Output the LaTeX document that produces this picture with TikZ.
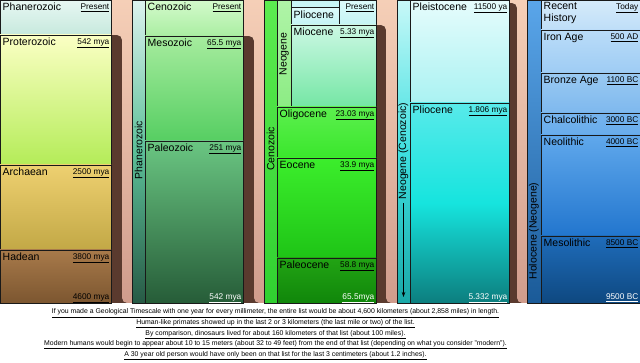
\documentclass[tikz,border=0pt]{standalone}
\usepackage{fontspec}
\setmainfont{Liberation Sans}
\usetikzlibrary{arrows.meta}

\definecolor{pchT}{HTML}{F6D0B8}
\definecolor{pchB}{HTML}{D09C8C}
\definecolor{brn}{HTML}{5A3A2E}
\definecolor{phT}{HTML}{E8F7F3}
\definecolor{phB}{HTML}{C6E9DD}
\definecolor{prT}{HTML}{FBFFC4}
\definecolor{prB}{HTML}{B4EC58}
\definecolor{arT}{HTML}{EED070}
\definecolor{arB}{HTML}{C2A846}
\definecolor{haT}{HTML}{A87A4A}
\definecolor{haB}{HTML}{7C5630}
\definecolor{s2T}{HTML}{DCF3EF}
\definecolor{s2M}{HTML}{5CBF98}
\definecolor{s2B}{HTML}{275A45}
\definecolor{czT}{HTML}{D4FACC}
\definecolor{czB}{HTML}{AAEEA2}
\definecolor{mzT}{HTML}{A6EC9E}
\definecolor{mzB}{HTML}{56CE62}
\definecolor{pzT}{HTML}{6AC682}
\definecolor{pzB}{HTML}{265C38}
\definecolor{s3T}{HTML}{5CEC50}
\definecolor{s3B}{HTML}{30D030}
\definecolor{ngT}{HTML}{B0F4A8}
\definecolor{ngB}{HTML}{8CEC84}
\definecolor{plT}{HTML}{C8F6F6}
\definecolor{pcT}{HTML}{DCFAFA}
\definecolor{pcB}{HTML}{C4F4F4}
\definecolor{miT}{HTML}{CCF8E4}
\definecolor{miB}{HTML}{74E6A4}
\definecolor{olT}{HTML}{5CF04E}
\definecolor{olB}{HTML}{3AE62C}
\definecolor{eoT}{HTML}{3CEE2C}
\definecolor{eoB}{HTML}{1EC416}
\definecolor{paT}{HTML}{22A414}
\definecolor{paB}{HTML}{10860A}
\definecolor{s4T}{HTML}{C8F8F8}
\definecolor{s4M}{HTML}{3EE0E0}
\definecolor{s4B}{HTML}{1AA8A8}
\definecolor{psT}{HTML}{E6FCFC}
\definecolor{psB}{HTML}{AAF2F2}
\definecolor{plvT}{HTML}{58EAEA}
\definecolor{plvM}{HTML}{16E4DE}
\definecolor{plvB}{HTML}{0C7E7E}
\definecolor{s5T}{HTML}{5AA6EA}
\definecolor{s5B}{HTML}{1A5A98}
\definecolor{rhT}{HTML}{D6EBFA}
\definecolor{rhB}{HTML}{BEDEF8}
\definecolor{iaT}{HTML}{BADCF8}
\definecolor{iaB}{HTML}{9ECCF4}
\definecolor{baT}{HTML}{9ACAF2}
\definecolor{baB}{HTML}{7EB8EE}
\definecolor{chT}{HTML}{76B4EE}
\definecolor{chB}{HTML}{68ACEC}
\definecolor{neT}{HTML}{60A8EC}
\definecolor{neB}{HTML}{2276CE}
\definecolor{meT}{HTML}{1F6CBA}
\definecolor{meB}{HTML}{0E4880}

\newcommand{\geobox}[8]{%
  \draw[cell, #5] (#1,#2) rectangle (#3,#4);
  \node[ename] (#8) at (#1+2.5,#2+11) {#6};
  \node[edate] (#8d) at (#3-1.5,#2+9.5) {\underline{#7}};
}

\begin{document}
\begin{tikzpicture}[x=1pt, y=-1pt,
    cell/.style={draw=black!90, line width=0.8pt},
    band/.style={fill=brn},
    tint/.style={top color=pchT, bottom color=pchB},
    ename/.style={anchor=base west, inner sep=0pt, align=left, font=\fontsize{10.5}{11.5}\selectfont},
    edate/.style={anchor=base east, inner sep=0pt, font=\fontsize{8.3}{9}\selectfont},
    vname/.style={rotate=90, inner sep=1pt, font=\fontsize{10.5}{12}\selectfont},
    note/.style={anchor=base, inner sep=0pt, font=\fontsize{6.9}{8}\selectfont}]
  \useasboundingbox (0,0) rectangle (640,363);
  \fill[white] (0,0) rectangle (640,363);

  \foreach \xa/\xb/\xc/\ys in {111/122/132/35, 243/254/264/36, 376/386/397/25, 509/517/527/3} {
    \fill[band, rounded corners=5pt] (\xa-10,\ys) rectangle (\xc+6,303);
    \fill[tint, rounded corners=5pt] (\xa-10,-6) -- (\xc+6,-6) -- (\xc+6,303) -- (\xb,303) -- (\xb,\ys) -- (\xa-10,\ys) -- cycle;
  }

  \geobox{0}{0}{111}{35}{top color=phT, bottom color=phB}{Phanerozoic}{Present}{phan}
  \geobox{0}{35}{111}{165}{top color=prT, bottom color=prB}{Proterozoic}{542 mya}{prot}
  \geobox{0}{165}{111}{250}{top color=arT, bottom color=arB}{Archaean}{2500 mya}{arch}
  \geobox{0}{250}{111}{303}{top color=haT, bottom color=haB}{Hadean}{3800 mya}{hade}
  \node[edate] (hadeend) at (109.5,299.5) {\underline{4600 mya}};

  \draw[cell, top color=s2T, bottom color=s2B, middle color=s2M] (132,0) rectangle (145,303);
  \node[vname] (phanv) at (138.5,150) {Phanerozoic};
  \geobox{145}{0}{243}{36}{top color=czT, bottom color=czB}{Cenozoic}{Present}{ceno}
  \geobox{145}{36}{243}{141}{top color=mzT, bottom color=mzB}{Mesozoic}{65.5 mya}{meso}
  \geobox{145}{141}{243}{303}{top color=pzT, bottom color=pzB}{Paleozoic}{251 mya}{pale}
  \node[edate, text=white] (paleend) at (241.5,299.5) {\underline{542 mya}};

  \draw[cell, top color=s3T, bottom color=s3B] (264,0) rectangle (277,303);
  \node[vname] (cenov) at (270.5,149) {Cenozoic};
  \draw[cell, top color=ngT, bottom color=ngB] (277,0) rectangle (291,107);
  \node[vname] (neov) at (284,54) {Neogene};
  \draw[cell, fill=plT] (291,0.8) rectangle (339,7.5);
  \geobox{291}{7.5}{339}{25}{top color=pcT, bottom color=pcB}{Pliocene}{}{plio}
  \geobox{339}{0}{376}{25}{top color=pcT, bottom color=pcB}{}{Present}{pres}
  \geobox{291}{25}{376}{107}{top color=miT, bottom color=miB}{Miocene}{5.33 mya}{mioc}
  \geobox{277}{107}{376}{158}{top color=olT, bottom color=olB}{Oligocene}{23.03 mya}{olig}
  \geobox{277}{158}{376}{258}{top color=eoT, bottom color=eoB}{Eocene}{33.9 mya}{eoce}
  \geobox{277}{258}{376}{303}{top color=paT, bottom color=paB}{Paleocene}{58.8 mya}{pcen}
  \node[edate, text=white] (pcenend) at (374.5,299.5) {\underline{65.5mya}};

  \draw[cell, top color=s4T, bottom color=s4B, middle color=s4M] (397,0) rectangle (410,303);
  \node[vname] (neocz) at (403.5,151) {Neogene (Cenozoic)};
  \coordinate (arrend) at (403.5,297);
  \draw[-{Stealth[length=5pt,width=3.5pt]}, line width=0.7pt] ([yshift=-3pt]neocz.west) -- (arrend);
  \geobox{410}{0}{509}{103}{top color=psT, bottom color=psB}{Pleistocene}{11500 ya}{plei}
  \geobox{410}{103}{509}{303}{top color=plvT, bottom color=plvB, middle color=plvM}{Pliocene}{1.806 mya}{pliv}
  \node[edate, text=white] (plivend) at (507.5,299.5) {\underline{5.332 mya}};

  \draw[cell, top color=s5T, bottom color=s5B] (527,0) rectangle (541,303);
  \node[vname] (holov) at (534,231) {Holocene (Neogene)};
  \geobox{541}{0}{640}{30}{top color=rhT, bottom color=rhB}{}{Today}{rece}
  \node[ename, anchor=north west] (recet) at (543.5,2.5) {Recent\\History};
  \geobox{541}{30}{640}{73}{top color=iaT, bottom color=iaB}{Iron Age}{500 AD}{iron}
  \geobox{541}{73}{640}{113}{top color=baT, bottom color=baB}{Bronze Age}{1100 BC}{bron}
  \geobox{541}{113}{640}{135}{top color=chT, bottom color=chB}{Chalcolithic}{3000 BC}{chal}
  \geobox{541}{135}{640}{236}{top color=neT, bottom color=neB}{Neolithic}{4000 BC}{neol}
  \geobox{541}{236}{640}{303}{top color=meT, bottom color=meB}{Mesolithic}{8500 BC}{mesl}
  \node[edate, text=white] (meslend) at (638.5,299.5) {\underline{9500 BC}};

  \foreach \txt [count=\k from 0] in {
      {If you made a Geological Timescale with one year for every millimeter, the entire list would be about 4,600 kilometers (about 2,858 miles) in length.},
      {Human-like primates showed up in the last 2 or 3 kilometers (the last mile or two) of the list.},
      {By comparison, dinosaurs lived for about 160 kilometers of that list (about 100 miles).},
      {Modern humans would begin to appear about 10 to 15 meters (about 32 to 49 feet) from the end of that list (depending on what you consider "modern").},
      {A 30 year old person would have only been on that list for the last 3 centimeters (about 1.2 inches).}}
    \node[note] (note\k) at (275.5,314+10.5*\k) {\underline{\txt}};
\end{tikzpicture}
\end{document}
